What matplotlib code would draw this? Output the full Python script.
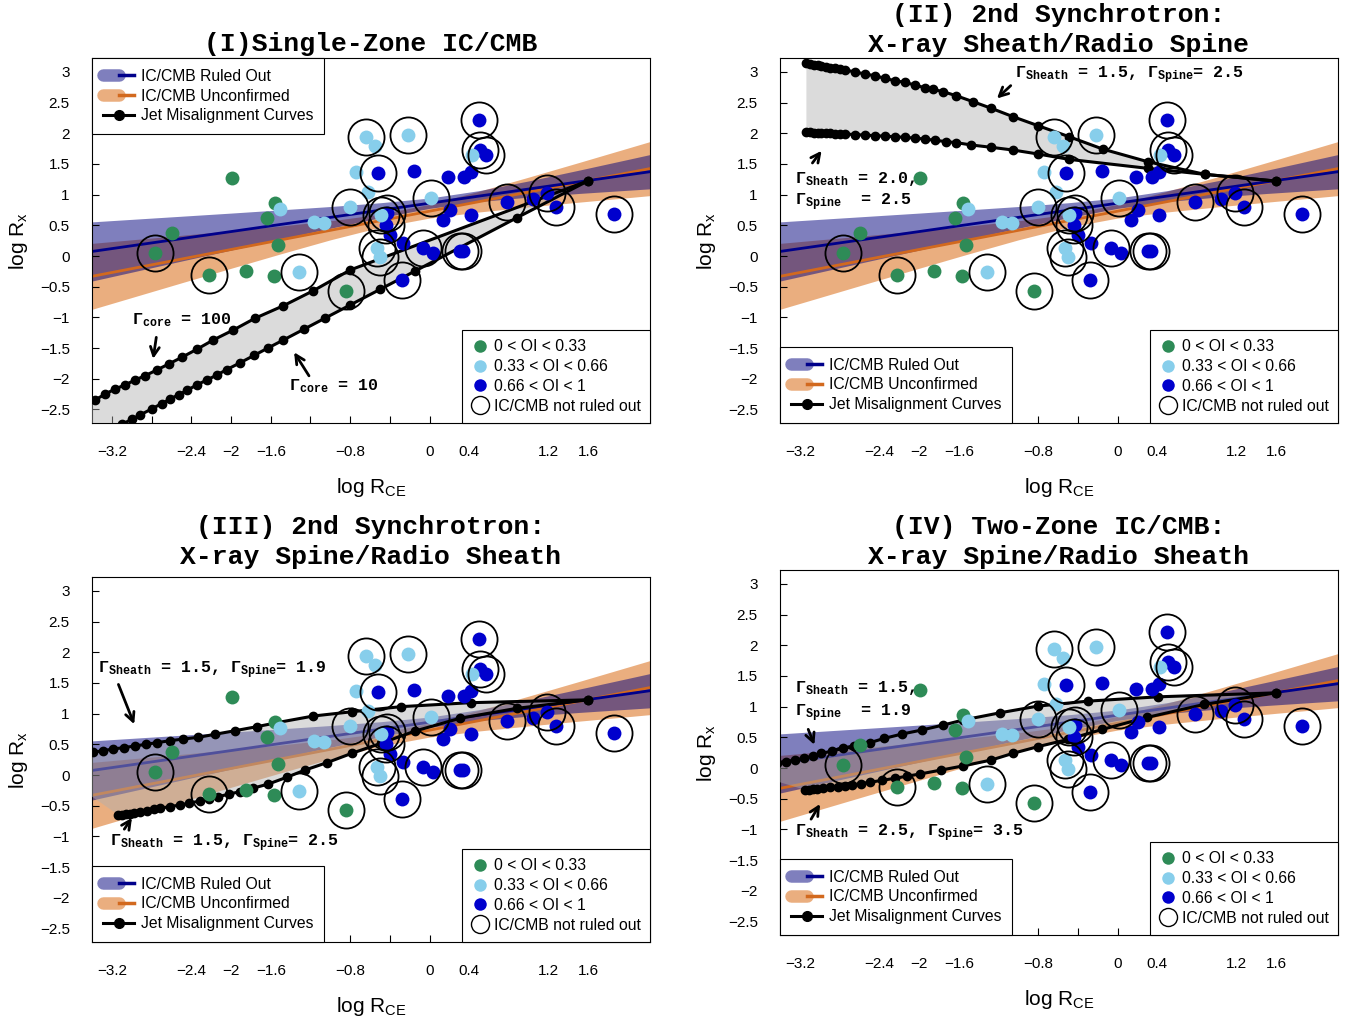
import numpy as np
import matplotlib
matplotlib.use('Agg')
import matplotlib.pyplot as plt
from matplotlib.lines import Line2D
from matplotlib.legend_handler import HandlerTuple

plt.rcParams['font.family'] = 'Liberation Sans'
plt.rcParams['mathtext.fontset'] = 'custom'
plt.rcParams['mathtext.rm'] = 'Liberation Mono:bold'
plt.rcParams['mathtext.it'] = 'Liberation Mono:bold'
plt.rcParams['mathtext.bf'] = 'Liberation Mono:bold'
plt.rcParams['mathtext.sf'] = 'Liberation Sans'

# scatter data (log R_CE, log R_x) per orientation-index class
green_x = [-1.993, -1.560, -1.640, -2.598, -2.768, -1.524, -2.220, -1.849, -1.564, -0.840]
green_y = [1.278, 0.867, 0.623, 0.368, 0.054, 0.179, -0.309, -0.244, -0.325, -0.569]
lblue_x = [-0.641, -0.551, -0.216, -0.739, -0.616, -0.800, -1.506, -1.164, -1.063,
           -1.315, 0.018, 0.432, -0.490, -0.532, -0.498]
lblue_y = [1.939, 1.793, 1.977, 1.371, 1.047, 0.803, 0.764, 0.558, 0.542,
           -0.255, 0.937, 1.652, 0.667, 0.125, -0.010]
dblue_x = [0.494, 0.512, 0.566, -0.515, -0.155, 0.187, 0.350, 0.422, 0.782, 1.040,
           1.180, 1.275, 1.863, 0.205, 0.135, 0.414, -0.437, -0.398, -0.264, -0.062,
           0.039, 0.308, 0.335, -0.280, -0.431]
dblue_y = [2.210, 1.723, 1.641, 1.345, 1.385, 1.280, 1.290, 1.365, 0.884, 0.935,
           1.033, 0.794, 0.683, 0.749, 0.585, 0.660, 0.504, 0.342, 0.206, 0.125,
           0.054, 0.087, 0.080, -0.390, 0.695]
# sources where IC/CMB is not ruled out
circ_x = [-2.768, -2.220, -0.840, -0.641, -0.216, -0.800, -1.315, 0.018, -0.490, -0.532,
          -0.498, 0.494, 0.512, 0.566, -0.515, 0.782, 1.180, 1.275, 1.863, -0.437,
          -0.062, 0.308, 0.335, -0.280, -0.431]
circ_y = [0.054, -0.309, -0.569, 1.939, 1.977, 0.803, -0.255, 0.937, 0.667, 0.125,
          -0.010, 2.210, 1.723, 1.641, 1.345, 0.884, 1.033, 0.794, 0.683, 0.504,
          0.125, 0.087, 0.080, -0.390, 0.695]

# regression fits with confidence bands
band_x = [-3.45, -3.0, -2.5, -2.0, -1.5, -1.0, -0.5, 0.0, 0.5, 1.0, 1.5, 2.0, 2.3]
ruled_fit = [0.063, 0.167, 0.283, 0.398, 0.514, 0.629, 0.745, 0.860, 0.976, 1.091, 1.207, 1.322, 1.391]
ruled_hi = [0.551, 0.597, 0.648, 0.699, 0.752, 0.806, 0.867, 0.944, 1.065, 1.223, 1.396, 1.573, 1.680]
ruled_lo = [-0.425, -0.263, -0.082, 0.097, 0.276, 0.452, 0.623, 0.776, 0.887, 0.959, 1.018, 1.071, 1.102]
unconf_fit = [-0.346, -0.206, -0.050, 0.106, 0.262, 0.418, 0.574, 0.730, 0.886, 1.042, 1.198, 1.354, 1.448]
unconf_hi = [0.199, 0.264, 0.337, 0.412, 0.489, 0.573, 0.680, 0.842, 1.055, 1.285, 1.520, 1.758, 1.901]
unconf_lo = [-0.891, -0.676, -0.437, -0.200, 0.035, 0.263, 0.468, 0.618, 0.717, 0.799, 0.876, 0.950, 0.995]

# jet misalignment curves, (upper, lower) for each panel
p1_up_x = [-3.60, -3.45, -3.371, -3.27, -3.17, -3.069, -2.968, -2.867, -2.75, -2.63, -2.497,
           -2.346, -2.18, -1.977, -1.76, -1.473, -1.171, -0.80, 1.60]
p1_up_y = [-2.50, -2.38, -2.345, -2.25, -2.166, -2.10, -2.02, -1.95, -1.857, -1.76, -1.65,
           -1.52, -1.368, -1.205, -1.015, -0.81, -0.565, -0.228, 1.226]
p1_lo_x = [-3.60, -3.30, -3.10, -3.00, -2.918, -2.80, -2.70, -2.615, -2.53, -2.447, -2.346,
           -2.245, -2.145, -2.044, -1.91, -1.77, -1.624, -1.473, -1.27, -1.053, -0.80,
           -0.498, -0.146, 0.88, 1.60]
p1_lo_y = [-3.16, -2.92, -2.74, -2.66, -2.59, -2.49, -2.405, -2.33, -2.26, -2.19, -2.10,
           -2.02, -1.94, -1.85, -1.74, -1.62, -1.495, -1.368, -1.196, -1.012, -0.798,
           -0.543, -0.245, 0.623, 1.226]

p2_up_x = [-3.136, -3.10, -3.06, -3.02, -2.985, -2.94, -2.895, -2.85, -2.80, -2.75, -2.65,
           -2.548, -2.447, -2.346, -2.245, -2.145, -2.044, -1.943, -1.86, -1.758, -1.624,
           -1.456, -1.271, -1.053, -0.80, -0.488, -0.146, 0.304, 0.88, 1.60]
p2_up_y = [3.138, 3.128, 3.117, 3.105, 3.094, 3.083, 3.07, 3.056, 3.043, 3.03, 3.0,
           2.964, 2.937, 2.894, 2.855, 2.829, 2.785, 2.741, 2.715, 2.676, 2.61,
           2.513, 2.405, 2.269, 2.122, 1.943, 1.74, 1.536, 1.33, 1.22]
p2_lo_x = [-3.136, -3.10, -3.06, -3.02, -2.985, -2.94, -2.895, -2.85, -2.80, -2.75, -2.65,
           -2.548, -2.447, -2.346, -2.245, -2.145, -2.044, -1.943, -1.84, -1.725, -1.624,
           -1.473, -1.271, -1.053, -0.80, -0.488, 0.304, 0.88, 1.60]
p2_lo_y = [2.014, 2.012, 2.01, 2.007, 2.004, 2.0, 1.996, 1.992, 1.99, 1.987, 1.978,
           1.97, 1.96, 1.952, 1.943, 1.933, 1.92, 1.905, 1.885, 1.862, 1.846,
           1.808, 1.77, 1.726, 1.661, 1.574, 1.428, 1.33, 1.22]

p3_up_x = [-3.93, -3.45, -3.388, -3.29, -3.187, -3.08, -2.968, -2.86, -2.75, -2.615, -2.48,
           -2.33, -2.162, -1.96, -1.741, -1.54, -1.17, -0.784, -0.29, 0.413, 1.60]
p3_up_y = [0.24, 0.36, 0.37, 0.397, 0.423, 0.447, 0.472, 0.50, 0.526, 0.559, 0.586,
           0.614, 0.663, 0.722, 0.787, 0.852, 0.961, 1.03, 1.113, 1.178, 1.225]
p3_lo_x = [-3.136, -3.10, -3.06, -3.02, -2.98, -2.918, -2.85, -2.78, -2.716, -2.62, -2.514,
           -2.42, -2.313, -2.22, -2.128, -2.02, -1.91, -1.78, -1.624, -1.439, -1.254,
           -1.036, -0.784, -0.49, -0.146, 0.304, 0.88, 1.60]
p3_lo_y = [-0.651, -0.645, -0.638, -0.63, -0.622, -0.597, -0.58, -0.56, -0.543, -0.515, -0.489,
           -0.458, -0.423, -0.39, -0.353, -0.31, -0.272, -0.215, -0.147, -0.037, 0.081,
           0.2, 0.353, 0.516, 0.716, 0.923, 1.086, 1.225]

p4_up_x = [-3.90, -3.434, -3.344, -3.254, -3.164, -3.074, -2.984, -2.876, -2.768, -2.66,
           -2.497, -2.353, -2.173, -1.975, -1.759, -1.56, -1.182, -0.804, -0.299, 0.404, 1.593]
p4_up_y = [0.01, 0.087, 0.103, 0.13, 0.157, 0.195, 0.238, 0.276, 0.32, 0.363,
           0.412, 0.482, 0.553, 0.618, 0.699, 0.78, 0.9, 1.008, 1.089, 1.159, 1.224]
p4_lo_x = [-3.146, -3.11, -3.07, -3.03, -2.966, -2.9, -2.822, -2.75, -2.677, -2.59, -2.497,
           -2.37, -2.245, -2.12, -1.993, -1.777, -1.56, -1.272, -1.056, -0.804, -0.497,
           -0.155, 0.295, 0.872, 1.593]
p4_lo_y = [-0.357, -0.354, -0.35, -0.345, -0.33, -0.317, -0.303, -0.29, -0.276, -0.255, -0.233,
           -0.2, -0.168, -0.133, -0.098, -0.033, 0.033, 0.13, 0.238, 0.347, 0.466,
           0.628, 0.823, 1.035, 1.224]

titles = ['(I)Single-Zone IC/CMB',
          '(II) 2nd Synchrotron:\nX-ray Sheath/Radio Spine',
          '(III) 2nd Synchrotron:\nX-ray Spine/Radio Sheath',
          '(IV) Two-Zone IC/CMB:\nX-ray Spine/Radio Sheath']

xtick_pos = [-3.2, -2.8, -2.4, -2.0, -1.6, -1.2, -0.8, -0.4, 0.0, 0.4, 0.8, 1.2, 1.6]
xtick_lab = ['\u22123.2', '', '\u22122.4', '\u22122', '\u22121.6', '', '\u22120.8', '',
             '0', '0.4', '', '1.2', '1.6']
ytick_pos = [-2.5, -2, -1.5, -1, -0.5, 0, 0.5, 1, 1.5, 2, 2.5, 3]
ytick_lab = ['\u22122.5', '\u22122', '\u22121.5', '\u22121', '\u22120.5', '0',
             '0.5', '1', '1.5', '2', '2.5', '3']

# annotations: (text, text pos, arrow tail, arrow head)
notes = [
    [(r'$\Gamma_{\mathrm{core}}$ = 100', (-3.0, -1.04), (-2.75, -1.28), (-2.79, -1.72)),
     (r'$\Gamma_{\mathrm{core}}$ = 10', (-1.416, -2.12), (-1.20, -1.99), (-1.38, -1.53))],
    [(r'$\Gamma_{\mathrm{Sheath}}$ = 1.5, $\Gamma_{\mathrm{Spine}}$= 2.5', (-1.038, 2.94),
      (-1.056, 2.806), (-1.236, 2.535)),
     (r'$\Gamma_{\mathrm{Sheath}}$ = 2.0,', (-3.254, 1.262), (-3.092, 1.479), (-2.966, 1.75)),
     (r'$\Gamma_{\mathrm{Spine}}$  = 2.5', (-3.254, 0.883), None, None)],
    [(r'$\Gamma_{\mathrm{Sheath}}$ = 1.5, $\Gamma_{\mathrm{Spine}}$= 1.9', (-3.344, 1.706),
      (-3.146, 1.517), (-2.966, 0.785)),
     (r'$\Gamma_{\mathrm{Sheath}}$ = 1.5, $\Gamma_{\mathrm{Spine}}$= 2.5', (-3.218, -1.11),
      (-3.092, -0.92), (-2.984, -0.66))],
    [(r'$\Gamma_{\mathrm{Sheath}}$ = 1.5,', (-3.254, 1.295), (-3.128, 0.672), (-3.045, 0.336)),
     (r'$\Gamma_{\mathrm{Spine}}$  = 1.9', (-3.254, 0.888), None, None),
     (r'$\Gamma_{\mathrm{Sheath}}$ = 2.5, $\Gamma_{\mathrm{Spine}}$= 3.5', (-3.254, -1.062),
      (-3.103, -0.872), (-2.984, -0.547))],
]

curves = [(p1_up_x, p1_up_y, p1_lo_x, p1_lo_y),
          (p2_up_x, p2_up_y, p2_lo_x, p2_lo_y),
          (p3_up_x, p3_up_y, p3_lo_x, p3_lo_y),
          (p4_up_x, p4_up_y, p4_lo_x, p4_lo_y)]

# colours
ruled_fill, ruled_line = '#00007d', '#00008b'
unconf_fill, unconf_line = '#d75f00', '#d2691e'
c_green, c_lblue, c_dblue = '#2e8b57', '#87ceeb', '#0000cd'

W, H = 1347, 1019
fig = plt.figure(figsize=(W / 100, H / 100), dpi=100)
boxes = [(92, 58, 650, 423), (780, 58, 1338, 423), (92, 577, 650, 942), (780, 570, 1338, 935)]
title_y = [44, 30, 542, 542]

mono = dict(family='Liberation Mono', weight='bold')

for k, (l, t, r, b) in enumerate(boxes):
    ax = fig.add_axes([l / W, 1 - b / H, (r - l) / W, (b - t) / H])
    ax.set_xlim(-3.402, 2.222)
    ax.set_ylim(-2.72, 3.225)

    ax.fill_between(band_x, unconf_lo, unconf_hi, color=unconf_fill, alpha=0.5, lw=0, zorder=1)
    ax.fill_between(band_x, ruled_lo, ruled_hi, color=ruled_fill, alpha=0.5, lw=0, zorder=1)
    ax.plot(band_x, unconf_fit, color=unconf_line, lw=2, zorder=2)
    ax.plot(band_x, ruled_fit, color=ruled_line, lw=2, zorder=2)

    ux, uy, lx, ly = curves[k]
    ax.fill(np.r_[ux, lx[::-1]], np.r_[uy, ly[::-1]], color='#b0b0b0', alpha=0.45, lw=0, zorder=3)
    ax.plot(ux, uy, '-o', color='k', lw=2.2, ms=6, zorder=4)
    ax.plot(lx, ly, '-o', color='k', lw=2.2, ms=6, zorder=4)

    ax.plot(green_x, green_y, 'o', color=c_green, ms=10, mew=0, zorder=5)
    ax.plot(dblue_x, dblue_y, 'o', color=c_dblue, ms=10, mew=0, zorder=5)
    ax.plot(lblue_x, lblue_y, 'o', color=c_lblue, ms=10, mew=0, zorder=5)
    ax.plot(circ_x, circ_y, 'o', mfc='none', mec='k', ms=26, mew=1.3, zorder=6)

    for txt, pos, tail, head in notes[k]:
        ax.text(pos[0], pos[1], txt, ha='left', va='center', fontsize=12, zorder=7, **mono)
        if tail is not None:
            ax.annotate('', xy=head, xytext=tail, zorder=7,
                        arrowprops=dict(arrowstyle='->', color='k', lw=2, mutation_scale=16))

    ax.set_xticks(xtick_pos)
    ax.set_xticklabels(xtick_lab)
    ax.set_yticks(ytick_pos)
    ax.set_yticklabels(ytick_lab)
    ax.tick_params(direction='in', length=5, width=0.8, labelsize=11)
    ax.tick_params(axis='x', pad=16)
    ax.tick_params(axis='y', pad=16)
    for s in ax.spines.values():
        s.set_linewidth(0.8)
    ax.set_xlabel(r'log R$_{\mathsf{CE}}$', fontsize=15)
    ax.set_ylabel(r'log R$_{\mathsf{x}}$', fontsize=15)
    ax.xaxis.set_label_coords(0.5, -0.146)
    ax.yaxis.set_label_coords(-0.112, 0.5)

    fig.text(((l + r) / 2) / W, 1 - title_y[k] / H, titles[k], ha='center', va='center',
             fontsize=19, linespacing=1.29, **mono)

    band_h = [
        (Line2D([], [], color=ruled_fill, alpha=0.5, lw=9, solid_capstyle='round'),
         Line2D([], [], color=ruled_line, lw=2.5)),
        (Line2D([], [], color=unconf_fill, alpha=0.5, lw=9, solid_capstyle='round'),
         Line2D([], [], color=unconf_line, lw=2.5)),
        Line2D([], [], color='k', lw=2.2, marker='o', ms=7),
    ]
    band_l = ['IC/CMB Ruled Out', 'IC/CMB Unconfirmed', 'Jet Misalignment Curves']
    loc = 'upper left' if k == 0 else 'lower left'
    leg1 = ax.legend(band_h, band_l, loc=loc, borderaxespad=0, fancybox=False,
                     edgecolor='k', framealpha=1, fontsize=11.3, handlelength=2.0,
                     handletextpad=0.4, labelspacing=0.3, borderpad=0.7,
                     handler_map={tuple: HandlerTuple(ndivide=None, pad=0)})
    leg1.get_frame().set_linewidth(0.8)
    leg1.set_zorder(10)
    ax.add_artist(leg1)

    oi_h = [Line2D([], [], ls='none', marker='o', color=c_green, ms=9, mew=0),
            Line2D([], [], ls='none', marker='o', color=c_lblue, ms=9, mew=0),
            Line2D([], [], ls='none', marker='o', color=c_dblue, ms=9, mew=0),
            Line2D([], [], ls='none', marker='o', mfc='none', mec='k', ms=13, mew=1)]
    oi_l = ['0 < OI < 0.33', '0.33 < OI < 0.66', '0.66 < OI < 1', 'IC/CMB not ruled out']
    leg2 = ax.legend(oi_h, oi_l, loc='lower right', borderaxespad=0, fancybox=False,
                     edgecolor='k', framealpha=1, fontsize=11.3, handlelength=1.0,
                     handletextpad=0.4, labelspacing=0.3, borderpad=0.6)
    leg2.get_frame().set_linewidth(0.8)
    leg2.set_zorder(10)

fig.savefig('out.png', dpi=100)
